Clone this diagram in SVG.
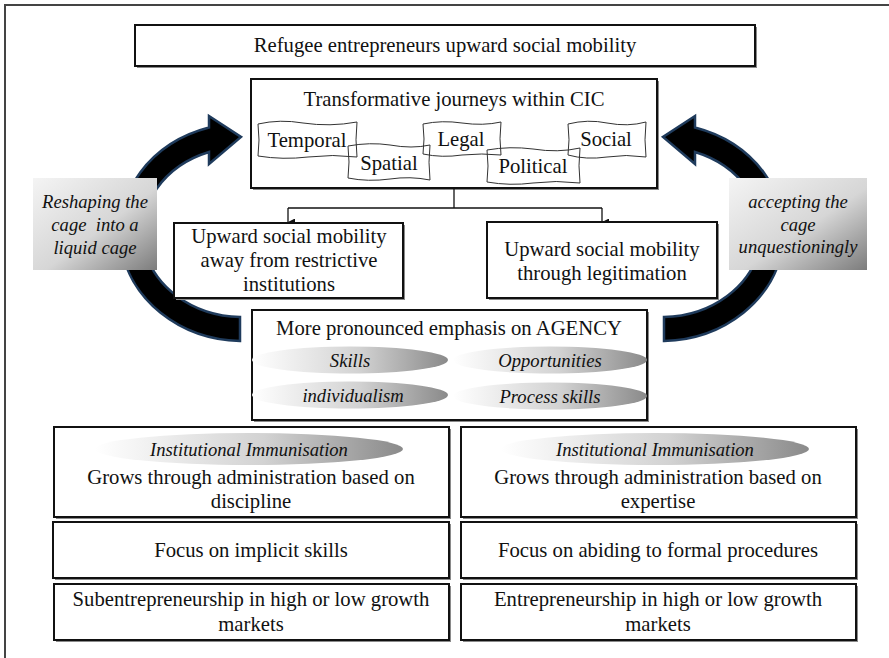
<svg xmlns="http://www.w3.org/2000/svg" width="889" height="658" viewBox="0 0 889 658">
<defs>
<style>
.t{font-family:'Liberation Serif','Times New Roman',Tinos,'DejaVu Serif','Noto Serif',serif;font-size:20.7px;fill:#111;text-anchor:middle}
.i{font-family:'Liberation Serif','Times New Roman',Tinos,'DejaVu Serif','Noto Serif',serif;font-size:18.6px;font-style:italic;fill:#111;text-anchor:middle}
.box{fill:#fff;stroke:#111;stroke-width:2}
.sh{fill:#8a8a8a}
.wav{fill:none;stroke:#333;stroke-width:1}
.con{fill:none;stroke:#111;stroke-width:1.3}
.arr{fill:#000;stroke:#1f3b5c;stroke-width:2.5;stroke-linejoin:miter}
</style>
<linearGradient id="lg" x1="0" y1="0" x2="1" y2="1">
<stop offset="0" stop-color="#f4f4f4"/>
<stop offset="0.55" stop-color="#d6d6d6"/>
<stop offset="1" stop-color="#7c7c7c"/>
</linearGradient>
<linearGradient id="eg" x1="0" y1="0" x2="1" y2="0">
<stop offset="0" stop-color="#ffffff"/>
<stop offset="0.55" stop-color="#d2d2d2"/>
<stop offset="1" stop-color="#8a8a8a"/>
</linearGradient>
<marker id="ah" viewBox="0 0 8 8" refX="4" refY="8" markerWidth="7" markerHeight="7" orient="auto-start-reverse" markerUnits="userSpaceOnUse">
<path d="M0 0 L8 0 L4 8 Z" fill="#111"/>
</marker>
</defs>

<rect x="0" y="0" width="889" height="658" fill="#fff"/>
<path d="M5 659 L5 5 L889 5" fill="none" stroke="#444" stroke-width="2"/>

<!-- curved arrows -->
<g id="arrow-left">
<path class="arr" d="M240 341 A124 109 0 0 1 209 127.5 L209 116 L241 137 L209 164 L209 152 A100 85 0 0 0 240 317 Z"/>
</g>
<g id="arrow-right">
<path class="arr" transform="translate(904 0) scale(-1 1)" d="M240 341 A124 109 0 0 1 209 127.5 L209 116 L241 137 L209 164 L209 152 A100 85 0 0 0 240 317 Z"/>
</g>

<g id="label-left">
<rect x="33" y="178" width="124" height="92" fill="url(#lg)"/>
<text class="i" x="95" y="208">Reshaping the</text>
<text class="i" x="95" y="231" xml:space="preserve">cage  into a</text>
<text class="i" x="95" y="254">liquid cage</text>
</g>
<g id="label-right">
<rect x="729" y="178" width="138" height="92" fill="url(#lg)"/>
<text class="i" x="798" y="208">accepting the</text>
<text class="i" x="798" y="231">cage</text>
<text class="i" x="798" y="253">unquestioningly</text>
</g>

<g id="top">
<rect class="sh" x="137" y="27" width="620" height="41"/>
<rect class="box" x="135" y="25" width="620" height="41"/>
<text class="t" x="445" y="52">Refugee entrepreneurs upward social mobility</text>
</g>

<g id="cic">
<rect class="sh" x="253" y="81" width="406" height="109"/>
<rect class="box" x="251" y="79" width="406" height="109" stroke-width="2.5"/>
<text class="t" x="454" y="106">Transformative journeys within CIC</text>
<path class="wav" d="M258 124 Q280 119 303 123 Q330 127 357 122 Q355 140 357 157 Q333 154 308 157 Q283 160 258 156 Q260 140 258 124 Z"/>
<text class="t" x="307" y="147">Temporal</text>
<path class="wav" d="M348 146 Q370 142 390 145 Q412 149 430 145 Q428 162 430 180 Q410 176 390 179 Q368 182 348 178 Q350 162 348 146 Z"/>
<text class="t" x="389" y="170">Spatial</text>
<path class="wav" d="M423 124 Q442 120 462 123 Q483 126 501 122 Q499 139 501 155 Q482 153 462 155 Q442 158 423 154 Q425 139 423 124 Z"/>
<text class="t" x="461" y="146">Legal</text>
<path class="wav" d="M487 150 Q510 146 533 149 Q558 153 580 148 Q578 166 580 183 Q556 180 533 183 Q510 186 487 182 Q489 166 487 150 Z"/>
<text class="t" x="533" y="173">Political</text>
<path class="wav" d="M568 124 Q588 119 607 123 Q628 127 646 122 Q644 140 646 157 Q626 154 607 157 Q586 160 568 155 Q570 140 568 124 Z"/>
<text class="t" x="606" y="146">Social</text>
</g>

<g id="connectors">
<path class="con" d="M454 189 L454 208"/>
<path class="con" d="M288 208 L602 208"/>
<path class="con" d="M288 208 L288 222" marker-end="url(#ah)"/>
<path class="con" d="M602 208 L602 222" marker-end="url(#ah)"/>
</g>

<g id="mid-left">
<rect class="sh" x="176" y="225" width="229" height="75"/>
<rect class="box" x="174" y="223" width="229" height="75"/>
<text class="t" x="289" y="243">Upward social mobility</text>
<text class="t" x="289" y="267">away from restrictive</text>
<text class="t" x="289" y="291">institutions</text>
</g>

<g id="mid-right">
<rect class="sh" x="489" y="224" width="230" height="76"/>
<rect class="box" x="487" y="222" width="230" height="76"/>
<text class="t" x="602" y="256">Upward social mobility</text>
<text class="t" x="602" y="280">through legitimation</text>
</g>

<g id="agency">
<rect class="sh" x="254" y="312" width="395" height="110"/>
<rect class="box" x="252" y="310" width="395" height="110"/>
<text class="t" x="449" y="335">More pronounced emphasis on AGENCY</text>
<ellipse cx="350" cy="360" rx="98" ry="13.5" fill="url(#eg)"/>
<text class="i" x="350" y="367">Skills</text>
<ellipse cx="550" cy="360" rx="97" ry="13.5" fill="url(#eg)"/>
<text class="i" x="550" y="367">Opportunities</text>
<ellipse cx="350" cy="395" rx="98" ry="13.5" fill="url(#eg)"/>
<text class="i" x="353" y="402">individualism</text>
<ellipse cx="550" cy="396" rx="97" ry="13.5" fill="url(#eg)"/>
<text class="i" x="550" y="403">Process skills</text>
</g>

<g id="left-1">
<rect class="sh" x="56" y="429" width="395" height="90"/>
<rect class="box" x="54" y="427" width="395" height="90"/>
<ellipse cx="249" cy="449" rx="154" ry="16" fill="url(#eg)"/>
<text class="i" x="249" y="456">Institutional Immunisation</text>
<text class="t" x="251" y="484">Grows through administration based on</text>
<text class="t" x="251" y="508">discipline</text>
</g>
<g id="left-2">
<rect class="sh" x="55" y="524" width="396" height="56"/>
<rect class="box" x="53" y="522" width="396" height="56"/>
<text class="t" x="251" y="557">Focus on implicit skills</text>
</g>
<g id="left-3">
<rect class="sh" x="56" y="586" width="395" height="56"/>
<rect class="box" x="54" y="584" width="395" height="56"/>
<text class="t" x="251" y="606">Subentrepreneurship in high or low growth</text>
<text class="t" x="251" y="631">markets</text>
</g>

<g id="right-1">
<rect class="sh" x="463" y="429" width="395" height="90"/>
<rect class="box" x="461" y="427" width="395" height="90"/>
<ellipse cx="655" cy="449" rx="154" ry="16" fill="url(#eg)"/>
<text class="i" x="655" y="456">Institutional Immunisation</text>
<text class="t" x="658" y="484">Grows through administration based on</text>
<text class="t" x="658" y="508">expertise</text>
</g>
<g id="right-2">
<rect class="sh" x="463" y="524" width="395" height="56"/>
<rect class="box" x="461" y="522" width="395" height="56"/>
<text class="t" x="658" y="557">Focus on abiding to formal procedures</text>
</g>
<g id="right-3">
<rect class="sh" x="463" y="586" width="395" height="56"/>
<rect class="box" x="461" y="584" width="395" height="56"/>
<text class="t" x="658" y="606">Entrepreneurship in high or low growth</text>
<text class="t" x="658" y="631">markets</text>
</g>
</svg>
